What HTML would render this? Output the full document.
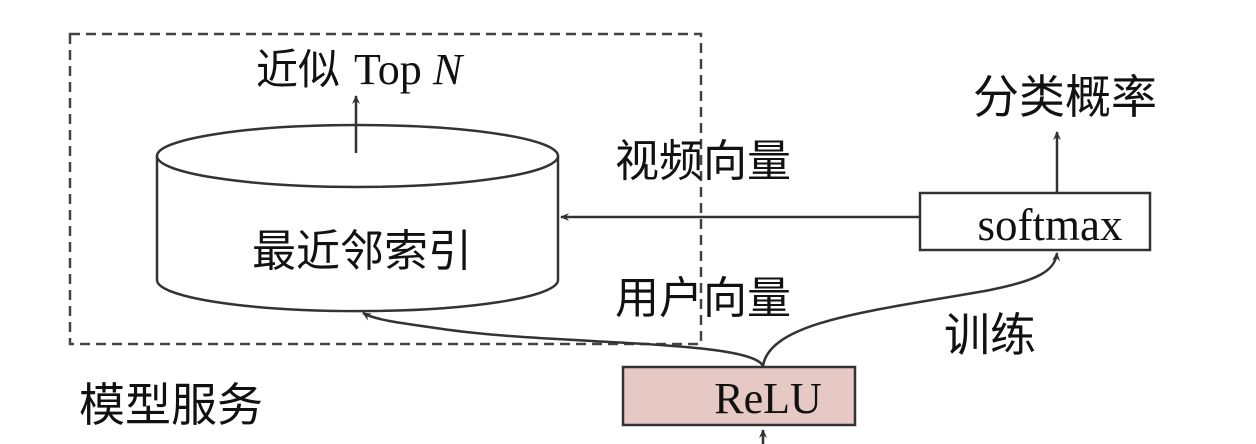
<!DOCTYPE html>
<html><head><meta charset="utf-8"><style>
body{margin:0;background:#fff;}
svg{display:block}
text{font-family:"Liberation Serif","Noto Serif CJK SC",serif;fill:#111;}
.c{font-family:"Liberation Sans","Noto Sans CJK SC",sans-serif;}
</style></head><body>
<svg width="1256" height="444" viewBox="0 0 1256 444">
<defs><marker id="a" markerWidth="10" markerHeight="10" refX="8" refY="5" orient="auto" markerUnits="userSpaceOnUse"><path d="M0,1 L9,5 L0,9 L3,5 Z" fill="#333"/></marker></defs>
<rect x="70" y="34" width="631" height="310" fill="none" stroke="#444" stroke-width="2.5" stroke-dasharray="10,6"/>
<path d="M157,156 L157,280 A200,31 0 0 0 558,280 L558,156" fill="#fff" stroke="#333" stroke-width="2.5"/>
<ellipse cx="357.5" cy="156" rx="200.5" ry="31" fill="#fff" stroke="#333" stroke-width="2.5"/>
<line x1="356" y1="153" x2="356" y2="96" stroke="#333" stroke-width="2.5" marker-end="url(#a)"/>
<text x="256" y="84" font-size="42" class="c">近似</text>
<text x="354" y="84" font-size="44">Top <tspan font-style="italic">N</tspan></text>
<text x="362" y="266" font-size="44" text-anchor="middle" class="c">最近邻索引</text>
<rect x="920" y="193" width="230" height="57" fill="#fff" stroke="#333" stroke-width="2.5"/>
<text x="1050" y="240" font-size="45" text-anchor="middle">softmax</text>
<line x1="920" y1="217" x2="561" y2="217" stroke="#333" stroke-width="2.5" marker-end="url(#a)"/>
<line x1="1057" y1="193" x2="1057" y2="132" stroke="#333" stroke-width="2.5" marker-end="url(#a)"/>
<text x="1065" y="113" font-size="46" text-anchor="middle" class="c">分类概率</text>
<rect x="623" y="367" width="232" height="58" fill="#e6c8c4" stroke="#333" stroke-width="2.5"/>
<text x="768" y="413" font-size="44" text-anchor="middle">ReLU</text>
<line x1="763" y1="444" x2="763" y2="430" stroke="#333" stroke-width="2.5" marker-end="url(#a)"/>
<path d="M763,366 C750,340 560,345 450,330 C400,323 375,320 363,313" fill="none" stroke="#333" stroke-width="2.5" marker-end="url(#a)"/>
<path d="M763,366 C770,320 880,310 990,290 C1040,280 1055,270 1057,253" fill="none" stroke="#333" stroke-width="2.5" marker-end="url(#a)"/>
<text x="703" y="176" font-size="44" text-anchor="middle" class="c">视频向量</text>
<text x="703" y="313" font-size="44" text-anchor="middle" class="c">用户向量</text>
<text x="990" y="351" font-size="46" text-anchor="middle" class="c">训练</text>
<text x="171" y="421" font-size="46" text-anchor="middle" class="c">模型服务</text>
</svg>
</body></html>
